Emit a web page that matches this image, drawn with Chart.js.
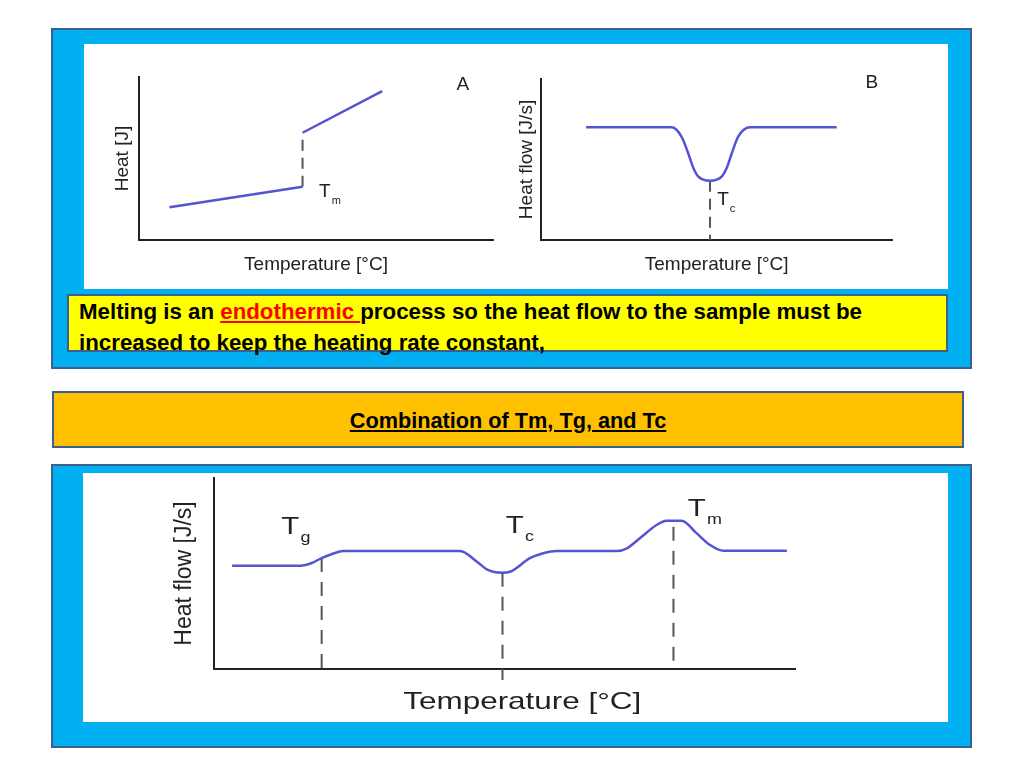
<!DOCTYPE html>
<html>
<head>
<meta charset="utf-8">
<script src="https://cdn.jsdelivr.net/npm/chart.js@4.4.1/dist/chart.umd.min.js"></script>
<style>
  body { margin: 0; width: 1024px; height: 768px; background: #fff; position: relative; overflow: hidden; }
  .panel { position: absolute; background: #00B0F0; border: 2px solid #3D5F8E; box-sizing: border-box; }
  .inner { position: absolute; background: #fff; }
  .box { position: absolute; box-sizing: border-box; border: 2px solid #3D5F8E; font-family: "Liberation Sans Narrow", "Liberation Sans", sans-serif; font-weight: bold; color: #000; }
  .red { color: #FF0000; text-decoration: underline; }
  canvas { position: absolute; }
</style>
</head>
<body>

<div class="panel" style="left:51px;top:28px;width:921px;height:341px;"></div>
<div class="inner" style="left:84px;top:44px;width:864px;height:245px;"></div>

<div class="box" style="left:67px;top:294px;width:881px;height:58px;background:#FFFF00;">
  <div style="position:absolute;left:10px;top:0px;font-size:22.3px;line-height:31px;white-space:nowrap;">Melting is an <span class="red">endothermic </span>process so the heat flow to the sample must be<br>increased to keep the heating rate constant,</div>
</div>

<div class="box" style="left:52px;top:391px;width:912px;height:57px;background:#FFC000;">
  <div style="position:absolute;left:0;right:0;top:15px;text-align:center;font-size:21.7px;line-height:26px;"><span style="text-decoration:underline;">Combination of Tm, Tg, and Tc</span></div>
</div>

<div class="panel" style="left:51px;top:464px;width:921px;height:284px;"></div>
<div class="inner" style="left:83px;top:473px;width:865px;height:249px;"></div>

<canvas id="heatChart" width="420" height="225" style="left:95px;top:55px;"></canvas>
<canvas id="crystChart" width="420" height="225" style="left:505px;top:55px;"></canvas>
<canvas id="dscChart" width="850" height="244" style="left:90px;top:476px;"></canvas>

<script>
// chart A: heat against temperature, with the jump at Tm
var heatBelowX = [8.6, 46.2];
var heatBelowY = [20.1, 32.7];
var heatAboveX = [46.2, 68.7];
var heatAboveY = [65.8, 91.4];
var tmJumpX = [46.2, 46.2];
var tmJumpY = [32.7, 65.8];

// chart B: heat flow with the crystallisation dip
var crystX = [12.9, 37.2, 40.0, 41.9, 43.4, 44.8, 48.1, 51.4, 52.8, 54.3, 56.1, 59.5, 84.1];
var crystY = [70, 70, 64.2, 53.9, 44.5, 39.3, 36.8, 39.3, 44.5, 53.9, 64.2, 70, 70];
var tcDropX = [48.1, 48.1];
var tcDropY = [36.8, 0];

// chart C: glass step, crystallisation dip and melting peak
var dscX = [3.2, 14.9, 16.9, 18.6, 20.4, 22.3, 42.4, 45.3, 47.0, 49.6, 51.0, 54.4, 56.7, 59.0, 69.3, 71.1, 73.3, 76.2, 77.9, 80.5, 83.1, 85.4, 87.7, 98.6];
var dscY = [54.1, 54.1, 55.5, 58.1, 60.2, 61.8, 61.8, 56.2, 52.2, 50.4, 50.9, 58.0, 60.6, 61.8, 61.8, 63.2, 68.4, 75.4, 77.6, 77.6, 71.0, 64.9, 61.9, 61.9];
var tgGuideX = [18.6, 18.6];
var tgGuideY = [58.1, 0];
var tcGuideX = [49.7, 49.7];
var tcGuideY = [50.4, -5.8];
var tmGuideX = [79.1, 79.1];
var tmGuideY = [74.5, 0];

var lineBlue = '#5454D2';
var guideGrey = '#555555';
var textDark = '#222222';
var axisFont = '"Liberation Sans", Arial, sans-serif';

function toPoints(xs, ys) {
    return xs.map(function (x, i) { return { x: x, y: ys[i] }; });
}

// draws "T" with a small subscript at data coordinates
function labelPlugin(items, stretch) {
    return {
        id: 'subLabels',
        afterDatasetsDraw: function (chart) {
            var ctx = chart.ctx;
            items.forEach(function (it) {
                var px = chart.scales.x.getPixelForValue(it.x);
                var py = chart.scales.y.getPixelForValue(it.y);
                ctx.save();
                ctx.translate(px, py);
                ctx.scale(stretch, 1);
                ctx.fillStyle = textDark;
                ctx.font = it.size + 'px ' + axisFont;
                ctx.textAlign = 'center';
                ctx.textBaseline = 'middle';
                ctx.fillText(it.text, 0, 0);
                if (it.sub) {
                    var w = ctx.measureText(it.text).width;
                    ctx.font = Math.round(it.size * 0.6) + 'px ' + axisFont;
                    ctx.textAlign = 'left';
                    ctx.fillText(it.sub, w / 2 + 1, it.size * 0.45);
                }
                ctx.restore();
            });
        }
    };
}

// wide axis title under the bottom chart (the source figure is stretched sideways)
function wideTitlePlugin(text, atX, below, size, stretch) {
    return {
        id: 'wideTitle',
        afterDraw: function (chart) {
            var ctx = chart.ctx;
            ctx.save();
            ctx.translate(chart.scales.x.getPixelForValue(atX), chart.chartArea.bottom + below);
            ctx.scale(stretch, 1);
            ctx.fillStyle = textDark;
            ctx.font = size + 'px ' + axisFont;
            ctx.textAlign = 'center';
            ctx.textBaseline = 'middle';
            ctx.fillText(text, 0, 0);
            ctx.restore();
        }
    };
}

function axis(title, size, pad) {
    return {
        type: 'linear',
        min: 0,
        max: 100,
        ticks: { display: false },
        grid: { display: false, drawTicks: false },
        border: { display: true, color: textDark, width: 2 },
        title: { display: !!title, text: title, color: textDark, font: { size: size, family: axisFont }, padding: pad }
    };
}

function curve(points, smooth) {
    return {
        data: points,
        borderColor: lineBlue,
        borderWidth: 2.5,
        pointRadius: 0,
        tension: smooth ? 0.4 : 0,
        cubicInterpolationMode: smooth ? 'monotone' : 'default'
    };
}

function guide(points, dash) {
    return {
        data: points,
        borderColor: guideGrey,
        borderWidth: 2,
        borderDash: dash,
        pointRadius: 0,
        clip: false
    };
}

function baseOptions(xAxis, yAxis, padding) {
    return {
        responsive: false,
        animation: false,
        layout: { padding: padding },
        plugins: { legend: { display: false }, tooltip: { enabled: false } },
        scales: { x: xAxis, y: yAxis }
    };
}

var heatChart = new Chart(document.getElementById('heatChart'), {
    type: 'line',
    data: {
        datasets: [
            curve(toPoints(heatBelowX, heatBelowY), false),
            curve(toPoints(heatAboveX, heatAboveY), false),
            guide(toPoints(tmJumpX, tmJumpY), [11, 7])
        ]
    },
    options: baseOptions(
        axis('Temperature [°C]', 19, { top: 13.6, bottom: 0 }),
        axis('Heat [J]', 19, { top: 0, bottom: 4.6 }),
        { left: 16.6, right: 22, top: 22, bottom: 3.6 }
    ),
    plugins: [labelPlugin([
        { text: 'A', sub: '', x: 91.5, y: 95.5, size: 19 },
        { text: 'T', sub: 'm', x: 52.5, y: 29.4, size: 19 }
    ], 1)]
});

var crystChart = new Chart(document.getElementById('crystChart'), {
    type: 'line',
    data: {
        datasets: [
            curve(toPoints(crystX, crystY), true),
            guide(toPoints(tcDropX, tcDropY), [11, 7])
        ]
    },
    options: baseOptions(
        axis('Temperature [°C]', 19, { top: 13.6, bottom: 0 }),
        axis('Heat flow [J/s]', 19, { top: 0, bottom: 2.3 }),
        { left: 10.6, right: 32.3, top: 24, bottom: 3.6 }
    ),
    plugins: [labelPlugin([
        { text: 'B', sub: '', x: 94.1, y: 97.5, size: 19 },
        { text: 'T', sub: 'c', x: 51.8, y: 24.8, size: 19 }
    ], 1)]
});

var dscChart = new Chart(document.getElementById('dscChart'), {
    type: 'line',
    data: {
        datasets: [
            curve(toPoints(dscX, dscY), true),
            guide(toPoints(tgGuideX, tgGuideY), [14, 10]),
            guide(toPoints(tcGuideX, tcGuideY), [14, 10]),
            guide(toPoints(tmGuideX, tmGuideY), [14, 10])
        ]
    },
    options: baseOptions(
        axis('', 24, 0),
        axis('Heat flow [J/s]', 23, { top: 0, bottom: 14.7 }),
        { left: 81.2, right: 145, top: 2, bottom: 51 }
    ),
    plugins: [
        labelPlugin([
            { text: 'T', sub: 'g', x: 13.2, y: 73.8, size: 23 },
            { text: 'T', sub: 'c', x: 51.8, y: 74.5, size: 23 },
            { text: 'T', sub: 'm', x: 83.1, y: 83.2, size: 23 }
        ], 1.28),
        wideTitlePlugin('Temperature [°C]', 53.1, 33, 24, 1.31)
    ]
});
</script>
</body>
</html>
